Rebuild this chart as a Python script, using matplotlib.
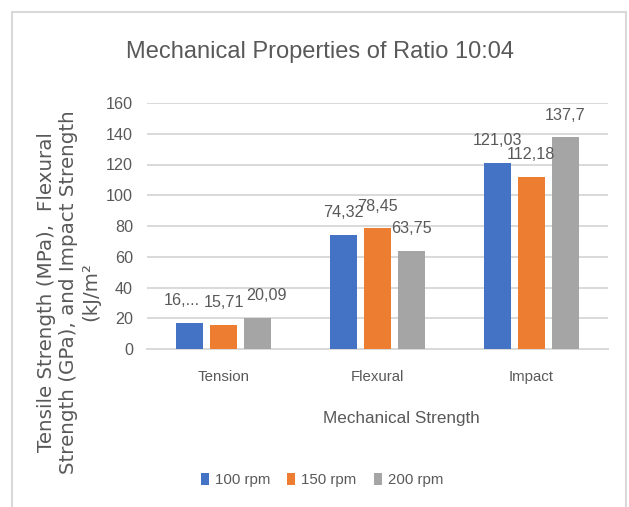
import matplotlib
matplotlib.use("Agg")
import matplotlib.pyplot as plt
from matplotlib.patches import Rectangle
import numpy as np

categories = ["Tension", "Flexural", "Impact"]
series_names = ["100 rpm", "150 rpm", "200 rpm"]
rpm100 = [16.9, 74.32, 121.03]
rpm150 = [15.71, 78.45, 112.18]
rpm200 = [20.09, 63.75, 137.7]
labels100 = ["16,...", "74,32", "121,03"]
labels150 = ["15,71", "78,45", "112,18"]
labels200 = ["20,09", "63,75", "137,7"]
yticks = [0, 20, 40, 60, 80, 100, 120, 140, 160]

colors = ["#4472C4", "#ED7D31", "#A5A5A5"]
txt = "#595959"
grid = "#D9D9D9"
FONT = ["Liberation Sans", "DejaVu Sans"]
plt.rcParams["font.family"] = FONT

W, H = 629, 507
fig = plt.figure(figsize=(W / 100, H / 100), dpi=100)
ax = fig.add_axes([147 / W, (H - 349) / H, 461 / W, 246 / H])

x = np.arange(len(categories))
bw = 0.176
off = 0.221
all_vals = [rpm100, rpm150, rpm200]
all_labels = [labels100, labels150, labels200]
label_dx = [[-6, 0, 0], [0, 0, 0], [6, 0, 0]]
for i, (vals, labs) in enumerate(zip(all_vals, all_labels)):
    pos = x + (i - 1) * off
    ax.bar(pos, vals, width=bw, color=colors[i], label=series_names[i], zorder=3)
    for j, (p, v, lab) in enumerate(zip(pos, vals, labs)):
        ax.annotate(lab, (p, v), xytext=(label_dx[i][j], 16), textcoords="offset points",
                    ha="center", va="center", fontsize=11.6, color=txt, zorder=4)

ax.set_xlim(-0.5, 2.5)
ax.set_ylim(0, 160)
ax.set_yticks(yticks)
ax.set_xticks(x)
ax.set_xticklabels(categories)
ax.yaxis.grid(True, color=grid, lw=1.4, zorder=0)
ax.set_axisbelow(True)
for s in ["top", "right", "left"]:
    ax.spines[s].set_visible(False)
ax.spines["bottom"].set_color(grid)
ax.spines["bottom"].set_linewidth(1.4)
ax.tick_params(axis="both", length=0, colors=txt)
ax.tick_params(axis="y", labelsize=11.6, pad=10)
ax.tick_params(axis="x", labelsize=10.8, pad=15)

fig.text(320 / W, (H - 52) / H, "Mechanical Properties of Ratio 10:04",
         ha="center", va="center", fontsize=17, color=txt)
fig.text(401 / W, (H - 418) / H, "Mechanical Strength",
         ha="center", va="center", fontsize=12.3, color=txt)
fig.text(69 / W, (H - 292) / H,
         "Tensile Strength (MPa),  Flexural\nStrength (GPa), and Impact Strength\n(kJ/m²",
         ha="center", va="center", rotation=90, fontsize=14.3, color=txt,
         family="DejaVu Sans", linespacing=1.2, multialignment="center")

leg = fig.legend(loc="center", bbox_to_anchor=(322 / W, (H - 480) / H), ncol=3,
                 frameon=False, fontsize=10.8, handlelength=0.54, handleheight=0.8,
                 handletextpad=0.4, columnspacing=1.15, borderaxespad=0)
for t in leg.get_texts():
    t.set_color(txt)

fig.patches.append(Rectangle((12 / W, -0.1), 614 / W, (H - 12) / H + 0.1,
                             transform=fig.transFigure, fill=False,
                             edgecolor=grid, lw=1.5))

fig.savefig("out.png", dpi=100)
